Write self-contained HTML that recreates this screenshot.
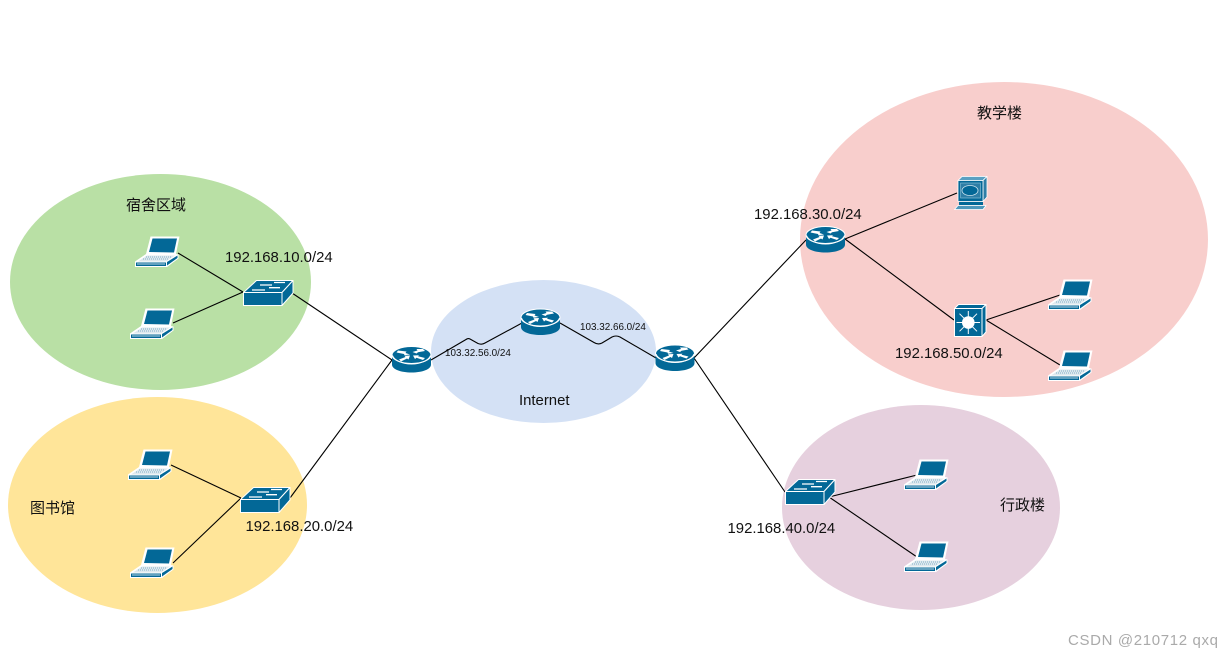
<!DOCTYPE html>
<html><head><meta charset="utf-8">
<style>
html,body{margin:0;padding:0;background:#fff;width:1232px;height:657px;overflow:hidden}
svg{display:block}
.ip{font-family:"Liberation Sans",sans-serif;font-size:14.9px;fill:#111}
.s{font-family:"Liberation Sans",sans-serif;font-size:9.9px;fill:#111}
.c{font-family:"Liberation Sans","Noto Sans CJK SC",sans-serif;font-size:15px;fill:#111}
</style></head><body>
<svg width="1232" height="657" viewBox="0 0 1232 657" xmlns="http://www.w3.org/2000/svg">
<defs>
<g id="laptop" stroke-linejoin="round">
  <path d="M15.500 0.500L44.500 0.500L41 18L43.500 18.500L43.500 22.500L32 31L0 31L0 25.500L11 18Z" fill="#fff"/>
  <path d="M17.500 2.500L42 2.500L39 16.500L14 16Z" fill="#036897"/>
  <path d="M12 19.500L40 19.500L31 25.500L3 25.500Z" fill="#dfe9ee"/>
  <path d="M11 21H37M8 23H34" stroke="#7fb0c8" stroke-width="1" stroke-dasharray="1 1" fill="none"/>
  <path d="M1 26.500H31V30H1Z" fill="#036897"/>
  <path d="M2 28H30" stroke="#fff" stroke-width="0.700"/>
  <path d="M32 26L42.500 19.500V22L32 29.500Z" fill="#036897"/>
</g>
<g id="router">
  <path d="M0 8.500V18C0 22.700 8.500 26 19.500 26S39 22.700 39 18V8.500Z" fill="#036897"/>
  <ellipse cx="19.500" cy="8.500" rx="19.500" ry="8.500" fill="#036897" stroke="#fff" stroke-width="1"/>
  <path d="M0.500 9C2 13.500 10 17.500 19.500 17.500S37 13.500 38.500 9" fill="none" stroke="#fff" stroke-width="1"/>
  <g fill="#fff">
    <path d="M6 4L14.500 5L13.500 6.500L18 8L12.500 8.800L12 7.500L4.500 6Z"/>
    <path d="M31 2.500L24.500 2.500L25.500 4L20.500 5.500L24.500 7L26 5.800L33 4.500Z"/>
    <path d="M7 13L13.500 10.500L12.500 9.300L18 9L16.500 13L15 12L9 15Z"/>
    <path d="M33 11.500L26 9.800L27 8.700L21 9L23 12.500L24.500 11.300L31 13.500Z"/>
  </g>
</g>
<g id="switch" stroke="#fff" stroke-width="1" stroke-linejoin="round">
  <path d="M0.500 12.500L13.500 0.500L50 0.500L39 12.500Z" fill="#036897"/>
  <path d="M0.500 12.500H39V25.500H0.500Z" fill="#036897"/>
  <path d="M39 12.500L50 0.500V13L39 25.500Z" fill="#036897"/>
  <path d="M17 5H29M31 2.500H42M9 10H22M26 7.700H37" stroke-width="1.300" fill="none"/>
</g>
<g id="l3" stroke="#fff" stroke-width="1" stroke-linejoin="round">
  <path d="M0.500 4.500L4.500 0.500H32L28 4.500Z" fill="#036897"/>
  <path d="M28 4.500L32 0.500V28L28 32.500Z" fill="#036897"/>
  <rect x="0.500" y="4.500" width="27.500" height="28" fill="#036897"/>
  <path d="M14.300 7V30M2.500 18.500H26M5.500 9.700L23 27.300M23 9.700L5.500 27.300" stroke-width="1" fill="none"/>
  <circle cx="14.300" cy="18.500" r="6.300" fill="#fff" stroke="none"/>
</g>
<g id="pc" stroke-linejoin="round">
  <path d="M4 4.500L8 0.500H33L29 4.500Z" fill="#5aa0c2" stroke="#fff" stroke-width="0.800"/>
  <path d="M29 4.500L33 0.500V21L29 25.500Z" fill="#2e7ea6" stroke="#fff" stroke-width="0.800"/>
  <rect x="4" y="4.500" width="25" height="21" fill="#036897" stroke="#fff" stroke-width="0.800"/>
  <rect x="6.500" y="7" width="20" height="15" fill="#2e7ea6" stroke="#7fb8d2" stroke-width="0.700"/>
  <ellipse cx="16" cy="14.500" rx="8" ry="5" fill="#036897" stroke="#cfe5ef" stroke-width="0.800"/>
  <path d="M5 26H29V29H5Z" fill="#036897"/>
  <path d="M4 29.500H32L29 33.500H0.500Z" fill="#4d97bb" stroke="#fff" stroke-width="0.800"/>
</g>
</defs>

<rect width="1232" height="657" fill="#fff"/>
<ellipse cx="160.500" cy="282" rx="150.500" ry="108" fill="#b9e0a5"/>
<ellipse cx="157.500" cy="505" rx="149.500" ry="108" fill="#ffe599"/>
<ellipse cx="543.500" cy="351.500" rx="112.500" ry="71.500" fill="#d4e1f5"/>
<ellipse cx="1004" cy="239.500" rx="204" ry="157.500" fill="#f8cecc"/>
<ellipse cx="921" cy="507.500" rx="139" ry="102.500" fill="#e6d0de"/>

<g fill="none" stroke="#000" stroke-width="1.100">
  <path d="M178 253L243 292M173 323L243 292M292 293L392 360"/>
  <path d="M171 465L241 498M173 563L241 498M290 498L392 360"/>
  <path d="M431 360L466 339.500Q468 338 470 339L478 343.500Q482 345 485 343L522 323"/>
  <path d="M560 323L594 342.500Q598 345 602 343L612 337Q616 335 620 337L656 358"/>
  <path d="M694 358L806 240M694 358L785 492"/>
  <path d="M829 497L917 475M829 497L917 557"/>
  <path d="M845 239L957 193M845 239L954 320M986 320L1060 295M986 320L1060 365"/>
</g>

<use href="#laptop" x="135" y="236"/>
<use href="#laptop" x="130" y="308"/>
<use href="#laptop" x="128" y="449"/>
<use href="#laptop" x="130" y="547"/>
<use href="#laptop" x="1048" y="279"/>
<use href="#laptop" x="1048" y="350"/>
<use href="#laptop" x="904" y="459"/>
<use href="#laptop" x="904" y="541"/>

<use href="#router" x="392" y="346.500"/>
<use href="#router" x="521" y="309"/>
<use href="#router" x="655.500" y="345"/>
<use href="#router" x="806" y="226.500"/>

<use href="#switch" x="243" y="280"/>
<use href="#switch" x="240" y="487"/>
<use href="#switch" x="785" y="479"/>
<use href="#l3" x="954" y="304"/>
<use href="#pc" x="954" y="176"/>

<text class="ip" x="225" y="262">192.168.10.0/24</text>
<text class="ip" x="245.500" y="531">192.168.20.0/24</text>
<text class="ip" x="754" y="219">192.168.30.0/24</text>
<text class="ip" x="895" y="358">192.168.50.0/24</text>
<text class="ip" x="727.500" y="533">192.168.40.0/24</text>
<text class="s" x="445" y="356">103.32.56.0/24</text>
<text class="s" x="580" y="330">103.32.66.0/24</text>
<text class="ip" x="519" y="405">Internet</text>
<text class="c" x="126" y="210">宿舍区域</text>
<text class="c" x="30" y="513">图书馆</text>
<text class="c" x="977" y="118">教学楼</text>
<text class="c" x="1000" y="510">行政楼</text>
<text x="1068" y="645" font-family="'Liberation Sans',sans-serif" font-size="15" fill="#aaaaaa" textLength="150" lengthAdjust="spacing">CSDN @210712 qxq</text>
</svg>
</body></html>
